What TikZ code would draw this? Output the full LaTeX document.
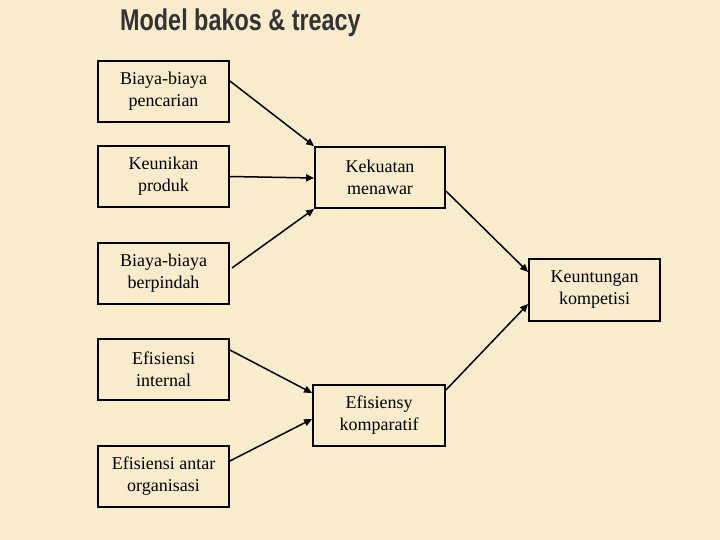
\documentclass[tikz,border=0pt]{standalone}
\usepackage{fontspec}
\setmainfont{Liberation Serif}
\newfontfamily\titlefont{Liberation Sans}
\usetikzlibrary{arrows.meta}
\definecolor{bg}{HTML}{F8ECCD}
\tikzset{box/.style={draw=black,line width=1.8pt,fill=bg,align=center,font=\fontsize{18}{22}\selectfont,inner sep=0pt},
 arr/.style={line width=1.5pt,-{Triangle[length=8pt,width=7pt]}}}
\begin{document}
\begin{tikzpicture}[x=1pt,y=-1pt]
\fill[bg] (0,0) rectangle (720,540);
\useasboundingbox (0,0) rectangle (720,540);
\node[font=\titlefont\bfseries\fontsize{30}{32}\selectfont,anchor=west,xscale=0.78,color=black!80,inner sep=0pt] (t) at (120,23) {Model bakos \& treacy};
\node[box,minimum width=131pt,minimum height=61pt] (a) at (163.5,91.5) {Biaya-biaya\\pencarian};
\node[box,minimum width=131pt,minimum height=61pt] (b) at (163.5,176.5) {Keunikan\\produk};
\node[box,minimum width=131pt,minimum height=61pt] (c) at (163.5,273.5) {Biaya-biaya\\berpindah};
\node[box,minimum width=131pt,minimum height=61pt] (d) at (163.5,369.5) {Efisiensi\\internal};
\node[box,minimum width=131pt,minimum height=61pt] (e) at (163.5,476.5) {Efisiensi antar\\organisasi};
\node[box,minimum width=130pt,minimum height=61pt] (k) at (380,177.5) {Kekuatan\\menawar};
\node[box,minimum width=132pt,minimum height=61pt] (f) at (379,415.5) {Efisiensy\\komparatif};
\node[box,minimum width=131pt,minimum height=62pt] (g) at (594.5,290) {Keuntungan\\kompetisi};
\draw[arr] (a.east|-0,81) -- (k.north west);
\draw[arr] (b.east) -- (k.west|-0,178);
\draw[arr] (232,268) -- (k.south west);
\draw[arr] (d.east|-0,350) -- (f.west|-0,393);
\draw[arr] (e.east|-0,461) -- (f.west|-0,419);
\draw[arr] (k.east|-0,191) -- (g.west|-0,272);
\draw[arr] (f.east|-0,390) -- (g.west|-0,304);
\end{tikzpicture}
\end{document}
